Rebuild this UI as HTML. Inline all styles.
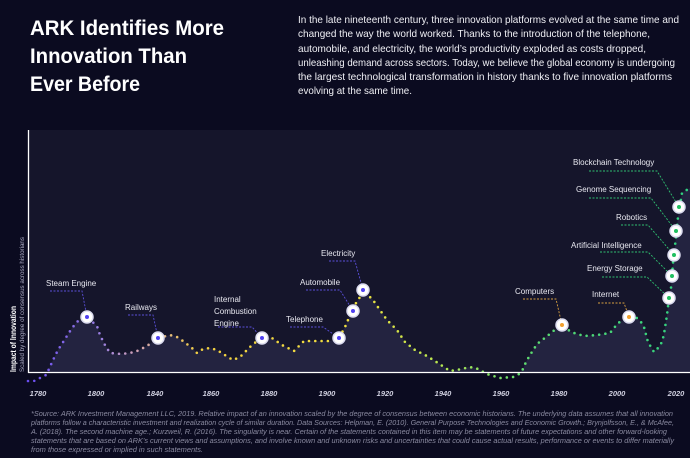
<!DOCTYPE html>
<html><head><meta charset="utf-8"><style>
html,body{margin:0;padding:0;background:#0b0b20;}
svg{display:block;font-family:"Liberation Sans",sans-serif;}
</style></head><body>
<svg width="690" height="458" viewBox="0 0 690 458" xmlns="http://www.w3.org/2000/svg">
<defs>
<linearGradient id="g" gradientUnits="userSpaceOnUse" x1="28" y1="0" x2="690" y2="0">
<stop offset="0" stop-color="#6a4df0"/>
<stop offset="0.11" stop-color="#9a7fe0"/>
<stop offset="0.17" stop-color="#d6a6b0"/>
<stop offset="0.26" stop-color="#f2d040"/>
<stop offset="0.5" stop-color="#f0e040"/>
<stop offset="0.62" stop-color="#b8e850"/>
<stop offset="0.75" stop-color="#5fdc70"/>
<stop offset="1" stop-color="#2fd080"/>
</linearGradient>
<clipPath id="c"><rect x="29" y="130" width="661" height="242"/></clipPath>
</defs>
<rect width="690" height="458" fill="#0b0b20"/>
<rect x="28" y="130" width="662" height="242" fill="#15152b"/>
<!-- fill -->
<path clip-path="url(#c)" fill="#232340" d="M28,381 L34,381 L40,378 L46,375 L49,369 L53,360 L58,350 L65,339 L72,328 L78,321 L87,317 L97,326 L100,335 L105,345 L110,353 L122,354 L135,352 L147,346 L158,338 L170,335 L177,337 L183,341 L192,348 L197,353 L203,349 L210,348 L217,350 L228,357 L233,360 L240,357 L248,349 L253,344 L262,338 L272,338 L282,345 L294,351 L299,346 L304,341 L330,341 L339,338 L345,327 L348,320 L353,311 L356,303 L360,297 L363,290 L373,300 L380,310 L387,320 L397,330 L405,342 L415,350 L427,356 L438,363 L450,371 L462,369 L469,367 L476,368 L487,374 L500,378 L513,377 L519,374 L523,369 L526,362 L530,355 L537,344 L546,337 L557,328 L562,325 L571,332 L584,336 L597,335 L610,333 L614,328 L618,323 L629,317 L637,318 L641,322 L644,327 L648,342 L654,352 L658,348 L662,342 L664,334 L667,315 L669,298 L671,288 L673,263 L676,237 L678,217 L682,193 L685,191 L690,188 L690,372 L28,372 Z"/>
<!-- dotted curve -->
<path fill="none" stroke="url(#g)" stroke-width="2.6" stroke-linecap="round" stroke-dasharray="0 6.3" d="M28,381 L34,381 L40,378 L46,375 L49,369 L53,360 L58,350 L65,339 L72,328 L78,321 L87,317 L97,326 L100,335 L105,345 L110,353 L122,354 L135,352 L147,346 L158,338 L170,335 L177,337 L183,341 L192,348 L197,353 L203,349 L210,348 L217,350 L228,357 L233,360 L240,357 L248,349 L253,344 L262,338 L272,338 L282,345 L294,351 L299,346 L304,341 L330,341 L339,338 L345,327 L348,320 L353,311 L356,303 L360,297 L363,290 L373,300 L380,310 L387,320 L397,330 L405,342 L415,350 L427,356 L438,363 L450,371 L462,369 L469,367 L476,368 L487,374 L500,378 L513,377 L519,374 L523,369 L526,362 L530,355 L537,344 L546,337 L557,328 L562,325 L571,332 L584,336 L597,335 L610,333 L614,328 L618,323 L629,317 L637,318 L641,322 L644,327 L648,342 L654,352 L658,348 L662,342 L664,334 L667,315 L669,298 L671,288 L673,263 L676,237 L678,217 L682,193 L685,191 L690,188"/>
<!-- axes -->
<line x1="28.5" y1="130" x2="28.5" y2="373" stroke="#ffffff" stroke-width="1.3"/>
<line x1="28" y1="372.5" x2="690" y2="372.5" stroke="#ffffff" stroke-width="1.3"/>
<!-- leaders -->
<g fill="none" stroke-width="0.9" stroke-dasharray="2 1.5">
<path stroke="#5a4fd8" d="M50,291 H82 L87,317"/>
<path stroke="#5a4fd8" d="M128,315 H153 L158,338"/>
<path stroke="#5a4fd8" d="M218,327 H252 L262,338"/>
<path stroke="#5a4fd8" d="M290,327 H323 L339,338"/>
<path stroke="#5a4fd8" d="M306,290 H340 L353,311"/>
<path stroke="#5a4fd8" d="M329,261 H355 L363,290"/>
<path stroke="#d8a040" d="M523,299 H556 L562,325"/>
<path stroke="#d8a040" d="M598,303 H624 L629,317"/>
<path stroke="#2fbf70" d="M602,277 H647 L669,298"/>
<path stroke="#2fbf70" d="M600,252 H648 L672,276"/>
<path stroke="#2fbf70" d="M621,225 H648 L674,255"/>
<path stroke="#2fbf70" d="M589,198 H651 L676,231"/>
<path stroke="#2fbf70" d="M589,171 H657 L679,207"/>
</g>
<!-- markers -->
<g stroke="#dcdcf0" stroke-width="1.5" fill="#ffffff">
<circle cx="87" cy="317" r="6"/><circle cx="158" cy="338" r="6"/><circle cx="262" cy="338" r="6"/>
<circle cx="339" cy="338" r="6"/><circle cx="353" cy="311" r="6"/><circle cx="363" cy="290" r="6"/>
<circle cx="562" cy="325" r="6"/><circle cx="629" cy="317" r="6"/>
<circle cx="669" cy="298" r="6"/><circle cx="672" cy="276" r="6"/><circle cx="674" cy="255" r="6"/><circle cx="676" cy="231" r="6"/><circle cx="679" cy="207" r="6"/>
</g>
<g>
<circle cx="87" cy="317" r="2" fill="#5040f0"/><circle cx="158" cy="338" r="2" fill="#5040f0"/><circle cx="262" cy="338" r="2" fill="#5040f0"/>
<circle cx="339" cy="338" r="2" fill="#5040f0"/><circle cx="353" cy="311" r="2" fill="#5040f0"/><circle cx="363" cy="290" r="2" fill="#5040f0"/>
<circle cx="562" cy="325" r="2" fill="#f0a030"/><circle cx="629" cy="317" r="2" fill="#f0a030"/>
<circle cx="669" cy="298" r="2" fill="#20c060"/><circle cx="672" cy="276" r="2" fill="#20c060"/><circle cx="674" cy="255" r="2" fill="#20c060"/><circle cx="676" cy="231" r="2" fill="#20c060"/><circle cx="679" cy="207" r="2" fill="#20c060"/>
</g>
<!-- labels -->
<g fill="#e8e8f0" font-size="8">
<text x="46" y="286">Steam Engine</text>
<text x="125" y="310">Railways</text>
<text x="214" y="302">Internal</text>
<text x="214" y="314">Combustion</text>
<text x="214" y="326">Engine</text>
<text x="286" y="322">Telephone</text>
<text x="300" y="285">Automobile</text>
<text x="321" y="256">Electricity</text>
<text x="515" y="294">Computers</text>
<text x="592" y="297">Internet</text>
<text x="587" y="271">Energy Storage</text>
<text x="571" y="248">Artificial Intelligence</text>
<text x="616" y="220">Robotics</text>
<text x="576" y="192">Genome Sequencing</text>
<text x="573" y="165">Blockchain Technology</text>
</g>
<!-- year ticks -->
<g fill="#d0d0e0" font-size="7.5" font-style="italic" font-weight="bold" text-anchor="middle">
<text x="38" y="396">1780</text><text x="96" y="396">1800</text><text x="155" y="396">1840</text>
<text x="211" y="396">1860</text><text x="269" y="396">1880</text><text x="327" y="396">1900</text>
<text x="385" y="396">1920</text><text x="443" y="396">1940</text><text x="501" y="396">1960</text>
<text x="559" y="396">1980</text><text x="617" y="396">2000</text><text x="676" y="396">2020</text>
</g>
<!-- y axis title -->
<text transform="translate(16,372) rotate(-90)" fill="#ffffff" font-size="8.5" font-weight="bold" textLength="66" lengthAdjust="spacingAndGlyphs">Impact of Innovation</text>
<text transform="translate(24,372) rotate(-90)" fill="#a8a8c0" font-size="6.5" textLength="135" lengthAdjust="spacingAndGlyphs">Scaled by degree of consensus across historians</text>
<!-- title -->
<g fill="#ffffff" font-size="21" font-weight="bold">
<text x="30" y="35" textLength="194" lengthAdjust="spacingAndGlyphs">ARK Identifies More</text>
<text x="30" y="63" textLength="157" lengthAdjust="spacingAndGlyphs">Innovation Than</text>
<text x="30" y="91" textLength="110" lengthAdjust="spacingAndGlyphs">Ever Before</text>
</g>
<!-- paragraph -->
<g fill="#f0f0f5" font-size="10.5" lengthAdjust="spacingAndGlyphs">
<text x="298" y="23" textLength="381" lengthAdjust="spacingAndGlyphs">In the late nineteenth century, three innovation platforms evolved at the same time and</text>
<text x="298" y="37" textLength="352" lengthAdjust="spacingAndGlyphs">changed the way the world worked. Thanks to the introduction of the telephone,</text>
<text x="298" y="52" textLength="348" lengthAdjust="spacingAndGlyphs">automobile, and electricity, the world’s productivity exploded as costs dropped,</text>
<text x="298" y="66" textLength="377" lengthAdjust="spacingAndGlyphs">unleashing demand across sectors. Today, we believe the global economy is undergoing</text>
<text x="298" y="80" textLength="374" lengthAdjust="spacingAndGlyphs">the largest technological transformation in history thanks to five innovation platforms</text>
<text x="298" y="94" textLength="114" lengthAdjust="spacingAndGlyphs">evolving at the same time.</text>
</g>
<!-- footer -->
<g fill="#8a8aa0" font-size="7.2" font-style="italic">
<text x="31" y="416" textLength="642" lengthAdjust="spacingAndGlyphs">*Source: ARK Investment Management LLC, 2019. Relative impact of an innovation scaled by the degree of consensus between economic historians. The underlying data assumes that all innovation</text>
<text x="31" y="425" textLength="643" lengthAdjust="spacingAndGlyphs">platforms follow a characteristic investment and realization cycle of similar duration. Data Sources: Helpman, E. (2010). General Purpose Technologies and Economic Growth.; Brynjolfsson, E., &amp; McAfee,</text>
<text x="31" y="434" textLength="636" lengthAdjust="spacingAndGlyphs">A. (2018). The second machine age.; Kurzweil, R. (2016). The singularity is near. Certain of the statements contained in this item may be statements of future expectations and other forward-looking</text>
<text x="31" y="443" textLength="643" lengthAdjust="spacingAndGlyphs">statements that are based on ARK’s current views and assumptions, and involve known and unknown risks and uncertainties that could cause actual results, performance or events to differ materially</text>
<text x="31" y="452" textLength="172" lengthAdjust="spacingAndGlyphs">from those expressed or implied in such statements.</text>
</g>
</svg>
</body></html>
